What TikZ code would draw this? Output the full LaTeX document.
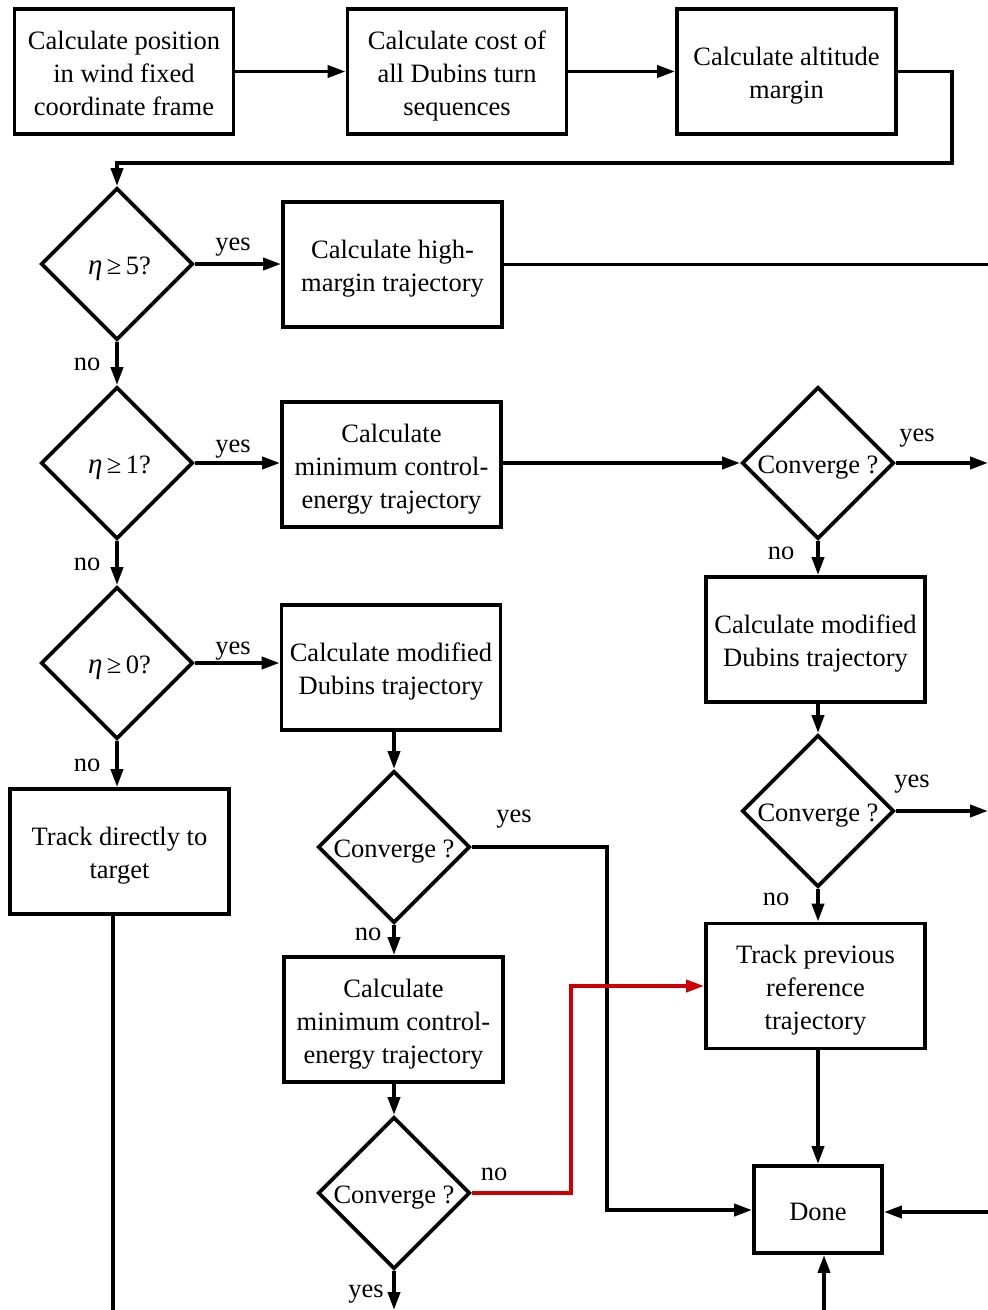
\documentclass[tikz,border=0pt]{standalone}
\usepackage{fontspec}
\setmainfont{Liberation Serif}
\usetikzlibrary{shapes.geometric,arrows.meta}
\newcommand\fstrut{\rule{0pt}{27pt}}
\newcommand\lstrut{\rule[-6pt]{0pt}{6pt}}
\newcommand\etaq[1]{\hspace*{5pt}{\fontsize{29}{33}\selectfont\textit{η}}\,≥\,#1?}
\begin{document}
\begin{tikzpicture}[x=1pt,y=-1pt,
 every node/.style={font=\fontsize{26.5}{33}\selectfont},
 st/.style={execute at begin node={\fstrut}, execute at end node={\lstrut}},
 box/.style={draw,line width=3.8pt,minimum width=219pt,minimum height=125pt,align=center,inner sep=2pt},
 dia/.style={st,draw,diamond,line width=3.8pt,minimum width=152pt,minimum height=152pt,inner sep=-1pt,aspect=1},
 arr/.style={line width=3.8pt,-{Triangle[length=18pt,width=12pt]}},
 ln/.style={line width=3.8pt},
 redarr/.style={arr,draw=red!80!black,color=red!80!black},
 lbl/.style={st,inner sep=0pt}]
\useasboundingbox (0,0) rectangle (988,1310);
% top row
\node[box] (b1) at (124,71.5) {\fstrut Calculate position\\in wind fixed\\coordinate frame\lstrut};
\node[box] (b2) at (457,71.5) {\fstrut Calculate cost of\\all Dubins turn\\sequences\lstrut};
\node[box] (b3) at (786.5,71.5) {\fstrut Calculate altitude\\margin\lstrut};
% decisions column 1
\node[dia] (d1) at (117,264) {\etaq{5}};
\node[dia] (d2) at (117,463) {\etaq{1}};
\node[dia] (d3) at (117,663) {\etaq{0}};
\node[box] (b8) at (119.5,851.5) {\fstrut Track directly to\\target\lstrut};
% column 2
\node[box] (b4) at (392.5,264.5) {\fstrut Calculate high-\\margin trajectory\lstrut};
\node[box] (b5) at (391.5,464.5) {\fstrut Calculate\\minimum control-\\energy trajectory\lstrut};
\node[box] (b6) at (391,667.5) {\fstrut Calculate modified\\Dubins trajectory\lstrut};
\node[dia] (d4) at (394,847) {Converge ?};
\node[box] (b7) at (393.5,1019.5) {\fstrut Calculate\\minimum control-\\energy trajectory\lstrut};
\node[dia] (d5) at (394,1193) {Converge ?};
% column 3
\node[dia] (d6) at (818,463) {Converge ?};
\node[box] (b9) at (815.5,639.5) {\fstrut Calculate modified\\Dubins trajectory\lstrut};
\node[dia] (d7) at (818,811) {Converge ?};
\node[box] (b10) at (815.5,986) {\fstrut Track previous\\reference\\trajectory\lstrut};
\node[box,minimum width=128pt,minimum height=87pt] (done) at (818,1209.5) {\fstrut Done\lstrut};
% helper coordinates
\coordinate (c1) at (952,163);
\coordinate (c2) at (607,1210);
\coordinate (c3) at (571,986);
\coordinate (e1) at (988,266);
\coordinate (e2) at (988,463);
\coordinate (e3) at (988,811);
\coordinate (e4) at (988,1212);
\coordinate (e5) at (824,1310);
\coordinate (e6) at (394,1310);
\coordinate (e7) at (113,1310);
% connectors
\draw[arr] (b1.east) -- (b2.west);
\draw[arr] (b2.east) -- (b3.west);
\draw[arr] (b3.east) -| (c1) -| (d1.north);
\draw[arr] (d1.east) -- (d1.east -| b4.west);
\draw[ln] (b4.east) -- (b4.east -| e1);
\draw[arr] (d1.south) -- (d2.north);
\draw[arr] (d2.east) -- (d2.east -| b5.west);
\draw[arr] (b5.east |- d6.west) -- (d6.west);
\draw[arr] (d6.east) -- (e2);
\draw[arr] (d6.south) -- (b9.north -| d6.south);
\draw[arr] (d2.south) -- (d3.north);
\draw[arr] (d3.east) -- (d3.east -| b6.west);
\draw[arr] (d3.south) -- (b8.north -| d3.south);
\draw[arr] (b6.south -| d4.north) -- (d4.north);
\draw[arr] (d4.east) -| (c2) -- (c2 -| done.west);
\draw[arr] (d4.south) -- (b7.north -| d4.south);
\draw[arr] (b7.south -| d5.north) -- (d5.north);
\draw[redarr] (d5.east) -| (c3) -- (b10.west);
\draw[arr] (d5.south) -- (e6);
\draw[arr] (b9.south -| d7.north) -- (d7.north);
\draw[arr] (d7.east) -- (e3);
\draw[arr] (d7.south) -- (b10.north -| d7.south);
\draw[arr] (b10.south -| done.north) -- (done.north);
\draw[arr] (e4) -- (e4 -| done.east);
\draw[arr] (e5) -- (e5 |- done.south);
\draw[ln] (b8.south -| e7) -- (e7);
% labels
\node[lbl] (y1) at (233,239.5) {yes};
\node[lbl] (n1) at (87,359.5) {no};
\node[lbl] (y2) at (233,441.5) {yes};
\node[lbl] (n2) at (87,559.5) {no};
\node[lbl] (y3) at (233,643.5) {yes};
\node[lbl] (n3) at (87,760.5) {no};
\node[lbl] (y4) at (514,811.5) {yes};
\node[lbl] (n4) at (368,929.5) {no};
\node[lbl] (n5) at (494,1169.5) {no};
\node[lbl] (y5) at (366,1286.5) {yes};
\node[lbl] (y6) at (917,430.5) {yes};
\node[lbl] (n6) at (781,548.5) {no};
\node[lbl] (y7) at (912,776.5) {yes};
\node[lbl] (n7) at (776,894.5) {no};
\end{tikzpicture}
\end{document}
